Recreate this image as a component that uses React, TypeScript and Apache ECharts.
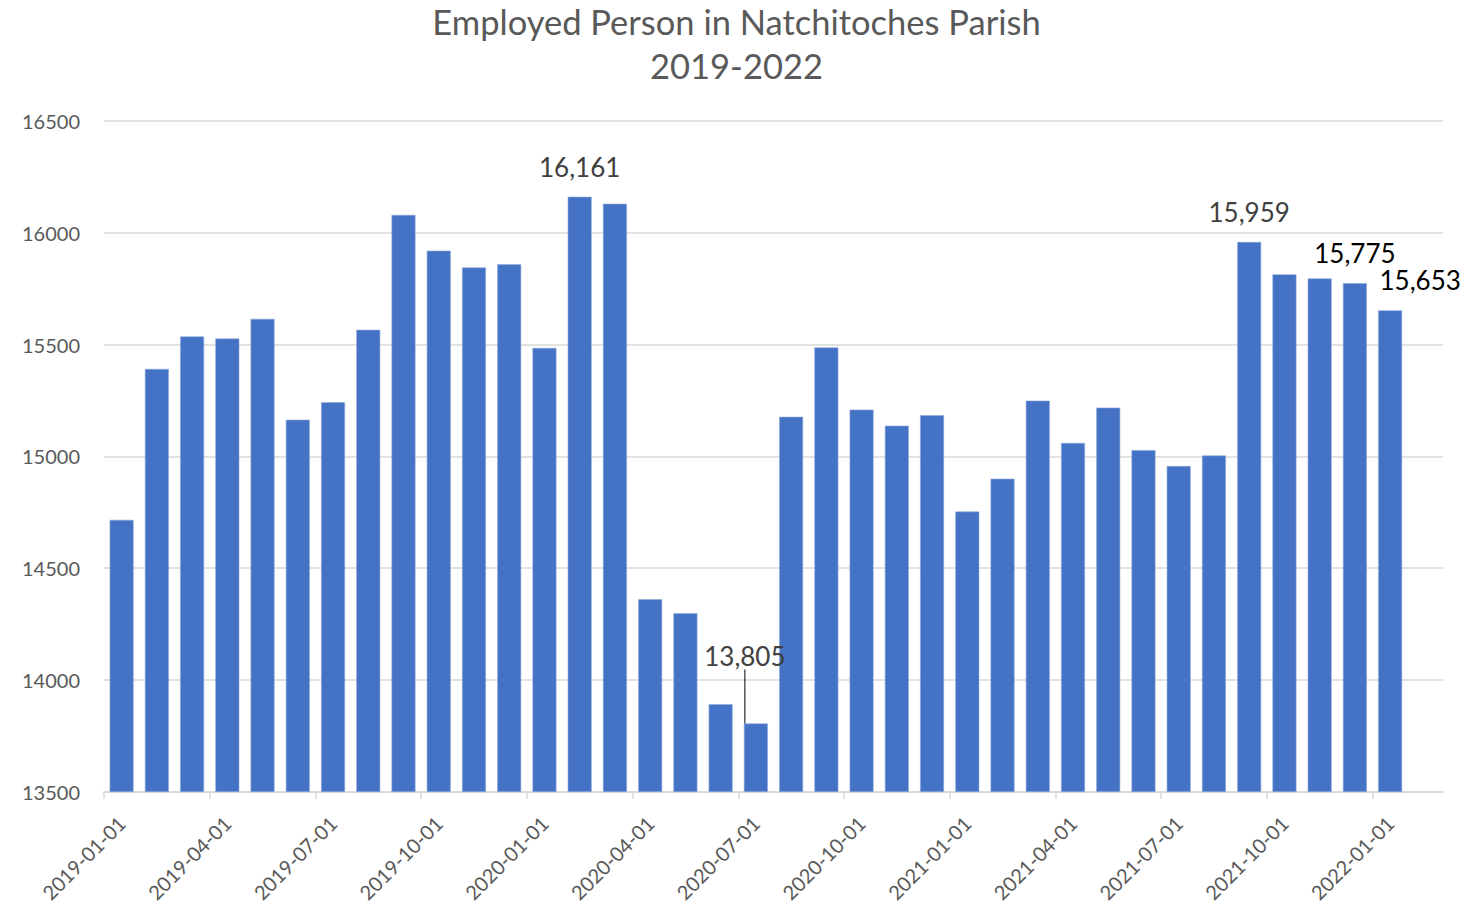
import React, { useEffect, useRef } from "react";
import * as echarts from "echarts";

const TITLE = "Employed Person in Natchitoches Parish";
const SUBTITLE = "2019-2022";

const months = [
  "2019-01-01", "2019-02-01", "2019-03-01", "2019-04-01", "2019-05-01", "2019-06-01",
  "2019-07-01", "2019-08-01", "2019-09-01", "2019-10-01", "2019-11-01", "2019-12-01",
  "2020-01-01", "2020-02-01", "2020-03-01", "2020-04-01", "2020-05-01", "2020-06-01",
  "2020-07-01", "2020-08-01", "2020-09-01", "2020-10-01", "2020-11-01", "2020-12-01",
  "2021-01-01", "2021-02-01", "2021-03-01", "2021-04-01", "2021-05-01", "2021-06-01",
  "2021-07-01", "2021-08-01", "2021-09-01", "2021-10-01", "2021-11-01", "2021-12-01",
  "2022-01-01",
];

const employed = [
  14716, 15391, 15536, 15527, 15615, 15164,
  15242, 15566, 16080, 15920, 15845, 15859,
  15485, 16161, 16130, 14361, 14298, 13891,
  13805, 15177, 15487, 15209, 15137, 15184,
  14753, 14900, 15249, 15060, 15218, 15028,
  14957, 15004, 15959, 15814, 15796, 15775,
  15653,
];

const tickLabels = [
  "2019-01-01", "2019-04-01", "2019-07-01", "2019-10-01", "2020-01-01", "2020-04-01",
  "2020-07-01", "2020-10-01", "2021-01-01", "2021-04-01", "2021-07-01", "2021-10-01",
  "2022-01-01",
];

const yTicks = [13500, 14000, 14500, 15000, 15500, 16000, 16500];

const labeledMonths = ["2020-02-01", "2020-07-01", "2021-09-01", "2021-12-01", "2022-01-01"];
const darkLabelMonths = ["2021-12-01", "2022-01-01"];
const leaderLabelMonth = "2020-07-01";
const sideLabelMonth = "2022-01-01";

const FONT = "Lato, 'Noto Sans', sans-serif";

export default function App() {
  const ref = useRef<HTMLDivElement>(null);

  useEffect(() => {
    if (!ref.current) return;
    const chart = echarts.init(ref.current, null, { renderer: "svg" });
    const tickPos = tickLabels.map((l) => months.indexOf(l));
    const leaderIdx = months.indexOf(leaderLabelMonth);
    const sideIdx = months.indexOf(sideLabelMonth);

    const data = employed.map((v, i) => {
      const m = months[i];
      if (!labeledMonths.includes(m)) return v;
      return {
        value: v,
        label: {
          show: true,
          color: darkLabelMonths.includes(m) ? "#000000" : "#404040",
        },
        labelLine:
          m === leaderLabelMonth
            ? { show: true, lineStyle: { color: "#000000", width: 1 } }
            : { show: false },
      };
    });

    chart.setOption({
      animation: false,
      backgroundColor: "#ffffff",
      textStyle: { fontFamily: FONT },
      title: {
        text: TITLE + "\n" + SUBTITLE,
        left: "center",
        top: -1,
        padding: 0,
        textStyle: {
          fontFamily: FONT,
          fontSize: 34.5,
          fontWeight: "normal",
          color: "#595959",
          lineHeight: 44,
        },
      },
      grid: { left: 104, right: 30, top: 121, bottom: 113 },
      xAxis: [
        {
          type: "category",
          data: months,
          max: months.length,
          axisLine: { show: false },
          axisTick: { show: false },
          axisLabel: { show: false },
          splitLine: { show: false },
        },
        {
          type: "value",
          min: 0,
          max: months.length + 1,
          position: "bottom",
          axisLine: { show: true, lineStyle: { color: "#d9d9d9", width: 1.5 } },
          axisTick: {
            show: true,
            customValues: tickPos,
            length: 7,
            lineStyle: { color: "#d9d9d9", width: 1.5 },
          },
          axisLabel: { show: false },
          splitLine: { show: false },
        },
        {
          type: "value",
          min: -0.5,
          max: months.length + 1 - 0.5,
          position: "bottom",
          axisLine: { show: false },
          axisTick: { show: false },
          splitLine: { show: false },
          axisLabel: {
            show: true,
            customValues: tickPos,
            formatter: (v: number) => months[Math.round(v)] ?? "",
            rotate: 45,
            margin: 28,
            fontSize: 20,
            fontFamily: FONT,
            color: "#595959",
            showMinLabel: true,
            showMaxLabel: true,
          },
        },
      ],
      yAxis: {
        type: "value",
        min: yTicks[0],
        max: yTicks[yTicks.length - 1],
        interval: yTicks[1] - yTicks[0],
        axisLine: { show: false },
        axisTick: { show: false },
        axisLabel: {
          fontSize: 20,
          fontFamily: FONT,
          color: "#595959",
          margin: 24,
          formatter: (v: number) => String(v),
        },
        splitLine: { show: true, lineStyle: { color: "#d9d9d9", width: 1.5 } },
      },
      series: [
        {
          type: "bar",
          xAxisIndex: 0,
          data,
          barWidth: "68%",
          itemStyle: { color: "#4472C4", borderColor: "#8faadc", borderWidth: 0.6 },
          label: {
            show: false,
            position: "top",
            distance: 17,
            fontSize: 26,
            fontFamily: FONT,
            formatter: (p: any) => Number(p.value).toLocaleString("en-US"),
          },
          labelLine: { show: false },
          labelLayout: (params: any) => {
            if (params.dataIndex === leaderIdx) return { dx: -11, dy: -37 };
            if (params.dataIndex === sideIdx) return { dx: 30, dy: 0 };
            return {};
          },
        },
      ],
    });

    return () => chart.dispose();
  }, []);

  return (
    <div
      ref={ref}
      style={{ position: "fixed", left: 0, top: 0, width: 1473, height: 905 }}
    />
  );
}
